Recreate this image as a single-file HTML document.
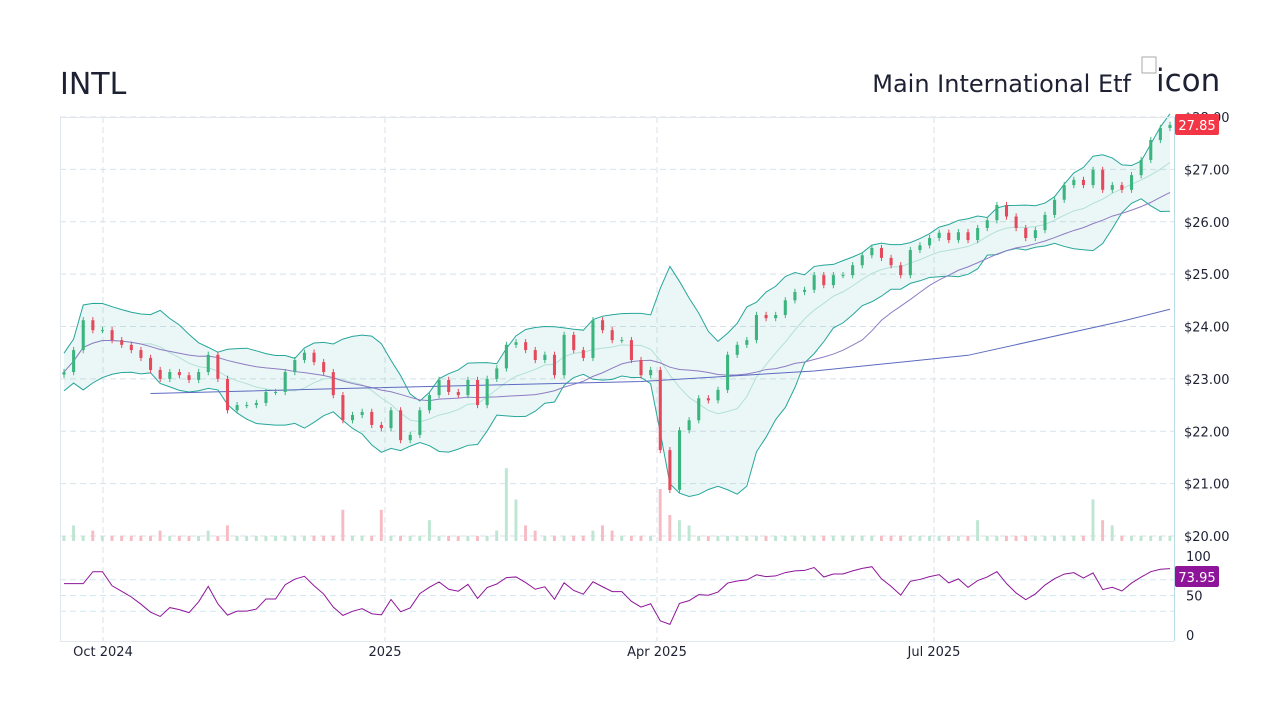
<!DOCTYPE html>
<html><head><meta charset="utf-8">
<style>
body{margin:0;background:#fff;width:1280px;height:720px;overflow:hidden;font-family:"Liberation Sans","DejaVu Sans",sans-serif}
svg text{font-family:"DejaVu Sans","Liberation Sans",sans-serif}
</style></head>
<body>
<svg id="chart" width="1280" height="720" xmlns="http://www.w3.org/2000/svg">
<text x="60" y="94" font-size="30" fill="#1e2133">INTL</text>
<text x="1131" y="92" font-size="24" fill="#1e2133" text-anchor="end">Main International Etf</text>
<g><rect x="1142" y="57" width="14" height="16" fill="none" stroke="#aaa"/><text x="1156" y="91" font-size="31" fill="#1e2133">icon</text></g>
<g id="grid"></g><g id="bands"></g><g id="vol"></g><g id="candles"></g><g id="rsi"></g><g id="axes"></g>
</svg>
<script>
const closes=[23.13,23.55,24.12,23.93,23.93,23.74,23.65,23.55,23.4,23.17,23.0,23.13,23.07,22.98,23.13,23.46,23.0,22.4,22.5,22.5,22.54,22.75,22.75,23.13,23.36,23.5,23.32,23.13,22.69,22.21,22.31,22.37,22.12,22.06,22.4,21.83,21.93,22.4,22.69,22.98,22.75,22.69,22.98,22.5,23.0,23.2,23.65,23.7,23.55,23.36,23.46,23.07,23.84,23.55,23.4,24.12,23.93,23.74,23.74,23.36,23.07,23.17,21.64,20.88,22.02,22.21,22.63,22.59,22.79,23.46,23.65,23.74,24.22,24.16,24.22,24.5,24.66,24.7,24.98,24.79,24.98,24.98,25.17,25.36,25.5,25.31,25.17,24.98,25.46,25.55,25.69,25.79,25.65,25.8,25.65,25.88,26.03,26.32,26.1,25.88,25.69,25.84,26.13,26.42,26.7,26.8,26.7,26.99,26.61,26.7,26.61,26.89,27.18,27.56,27.79,27.85];
const volumes=[1,3,1,2,1,1,1,1,1,1,2,1,1,1,1,2,1,3,1,1,1,1,1,1,1,1,1,1,1,6,1,1,1,6,1,1,1,1,4,1,1,1,1,1,1,2,14,8,3,2,1,1,1,1,1,2,3,2,1,1,1,1,10,5,4,3,1,1,1,1,1,1,1,1,1,1,1,1,1,1,1,1,1,1,1,1,1,1,1,1,1,1,1,1,1,4,1,1,1,1,1,1,1,1,1,1,1,8,4,3,1,1,1,1,1,1];
const sma200Idx=[9,30,44,60,78,94,110,115];
const sma200Val=[22.72,22.82,22.88,22.95,23.15,23.45,24.1,24.33];
const priceTicks=[20,21,22,23,24,25,26,27,28];
const rsiTicks=[0,50,100];
const dateLabels=["Oct 2024","2025","Apr 2025","Jul 2025"];
const datePos=[103,385,657,934];

const NS="http://www.w3.org/2000/svg";
const X0=64,X1=1170,N=closes.length;
const xs=i=>X0+(X1-X0)*i/(N-1);
const yp=p=>536-(p-20)*52.375;
const yr=r=>635-r*0.79;
function mk(tag,parent,attrs){const e=document.createElementNS(NS,tag);for(const k in attrs)e.setAttribute(k,attrs[k]);document.getElementById(parent).appendChild(e);return e;}
priceTicks.forEach(t=>{const g=mk('line','grid',{x1:60,x2:1174,y1:yp(t),y2:yp(t),stroke:'#d8e2ea','stroke-dasharray':'6,4'});

const l=mk('text','axes',{x:1184,y:yp(t)+5,'font-size':13,fill:'#1e2133'});l.textContent='$'+t.toFixed(2);
});
[70,50,30].forEach(t=>{const g=mk('line','grid',{x1:60,x2:1174,y1:yr(t),y2:yr(t),stroke:'#cfe8f3','stroke-dasharray':'6,4'});
});
rsiTicks.forEach(t=>{const l=mk('text','axes',{x:1186,y:yr(t)+5,'font-size':13,fill:'#1e2133'});l.textContent=t;
});
datePos.forEach((x,i)=>{const g=mk('line','grid',{x1:x,x2:x,y1:117,y2:641,stroke:'#d8e2ea','stroke-dasharray':'6,4'});

const l=mk('text','axes',{x:x,y:656,'font-size':13,fill:'#1e2133','text-anchor':'middle'});l.textContent=dateLabels[i];
});
let a=mk('line','axes',{x1:60.5,x2:60.5,y1:117,y2:641,stroke:'#e3e8ee'});
a=mk('line','axes',{x1:1174.5,x2:1174.5,y1:117,y2:641,stroke:'#b8dbe6'});
a=mk('line','axes',{x1:60,x2:1174,y1:117.5,y2:117.5,stroke:'#e3e8ee'});
a=mk('line','axes',{x1:60,x2:1174,y1:641.5,y2:641.5,stroke:'#e3e8ee'});
function sma(w,i){let s=0,n=0;for(let k=Math.max(0,i-w+1);k<=i;k++){s+=closes[k];n++;}return s/n;}
function sd(w,i,m){let s=0,n=0;for(let k=Math.max(0,i-w+1);k<=i;k++){s+=(closes[k]-m)**2;n++;}return Math.sqrt(s/n);}
const W=9,up=[],lo=[],mid=[];
for(let i=0;i<N;i++){const m=sma(W,i),d=Math.max(sd(W,i,m),0.18);mid.push(m);up.push(m+2*d);lo.push(m-2*d);}
const pts=arr=>arr.map((v,i)=>xs(i)+','+yp(v)).join(' ');
let e=mk('polygon','bands',{points:pts(up)+' '+lo.map((v,i)=>[xs(i),yp(v)]).reverse().map(p=>p.join(',')).join(' '),fill:'rgba(38,166,154,0.09)'});

e=mk('polyline','bands',{points:pts(up),fill:'none',stroke:'#26a69a','stroke-width':1});
e=mk('polyline','bands',{points:pts(lo),fill:'none',stroke:'#26a69a','stroke-width':1});
e=mk('polyline','bands',{points:pts(mid),fill:'none',stroke:'#b2e0d8','stroke-width':1});
const s50=closes.map((c,i)=>sma(22,i));
e=mk('polyline','bands',{points:pts(s50),fill:'none',stroke:'#8e7cc3','stroke-width':1});
e=mk('polyline','bands',{points:sma200Idx.map((k,j)=>xs(k)+','+yp(sma200Val[j])).join(' '),fill:'none',stroke:'#5c6bc0','stroke-width':1});
const bw=(X1-X0)/(N-1)*0.32;
for(let i=0;i<N;i++){const o=i?closes[i-1]:closes[0]-0.05,c=closes[i];const upC=c>=o;const col=upC?'#3bb57f':'#e5495c';
const hi=Math.max(o,c)+0.06,lw=Math.min(o,c)-0.06;
const w=mk('line','candles',{x1:xs(i),x2:xs(i),y1:yp(hi),y2:yp(lw),stroke:col});
const r=mk('rect','candles',{x:xs(i)-bw/2,y:yp(Math.max(o,c)),width:bw,height:Math.max(1,Math.abs(yp(o)-yp(c))),fill:col});
const vh=volumes[i]*5.2;const v=mk('rect','vol',{x:xs(i)-bw/2,y:541-vh,width:bw*0.95,height:vh,fill:upC?'#bfe5d3':'#f6bcc4'});}
const rsi=[];let ag=0,al=0;const P=6;
for(let i=0;i<N;i++){const ch=i?closes[i]-closes[i-1]:0;const g=Math.max(ch,0),l=Math.max(-ch,0);ag=(ag*(P-1)+g)/P;al=(al*(P-1)+l)/P;rsi.push(al===0?65:100-100/(1+ag/al));}
e=mk('polyline','rsi',{points:rsi.map((v,i)=>xs(i)+','+yr(v)).join(' '),fill:'none',stroke:'#8e1599','stroke-width':1});
e=mk('rect','axes',{x:1175,y:114,width:44,height:21,rx:2,fill:'#f23645'});
e=mk('text','axes',{x:1197,y:130,'font-size':13,fill:'#fff','text-anchor':'middle'});e.textContent=closes[N-1].toFixed(2);
e=mk('rect','axes',{x:1175,y:566,width:44,height:21,rx:2,fill:'#8e1599'});
e=mk('text','axes',{x:1197,y:582,'font-size':13,fill:'#fff','text-anchor':'middle'});e.textContent='73.95';
</script>
</body></html>
